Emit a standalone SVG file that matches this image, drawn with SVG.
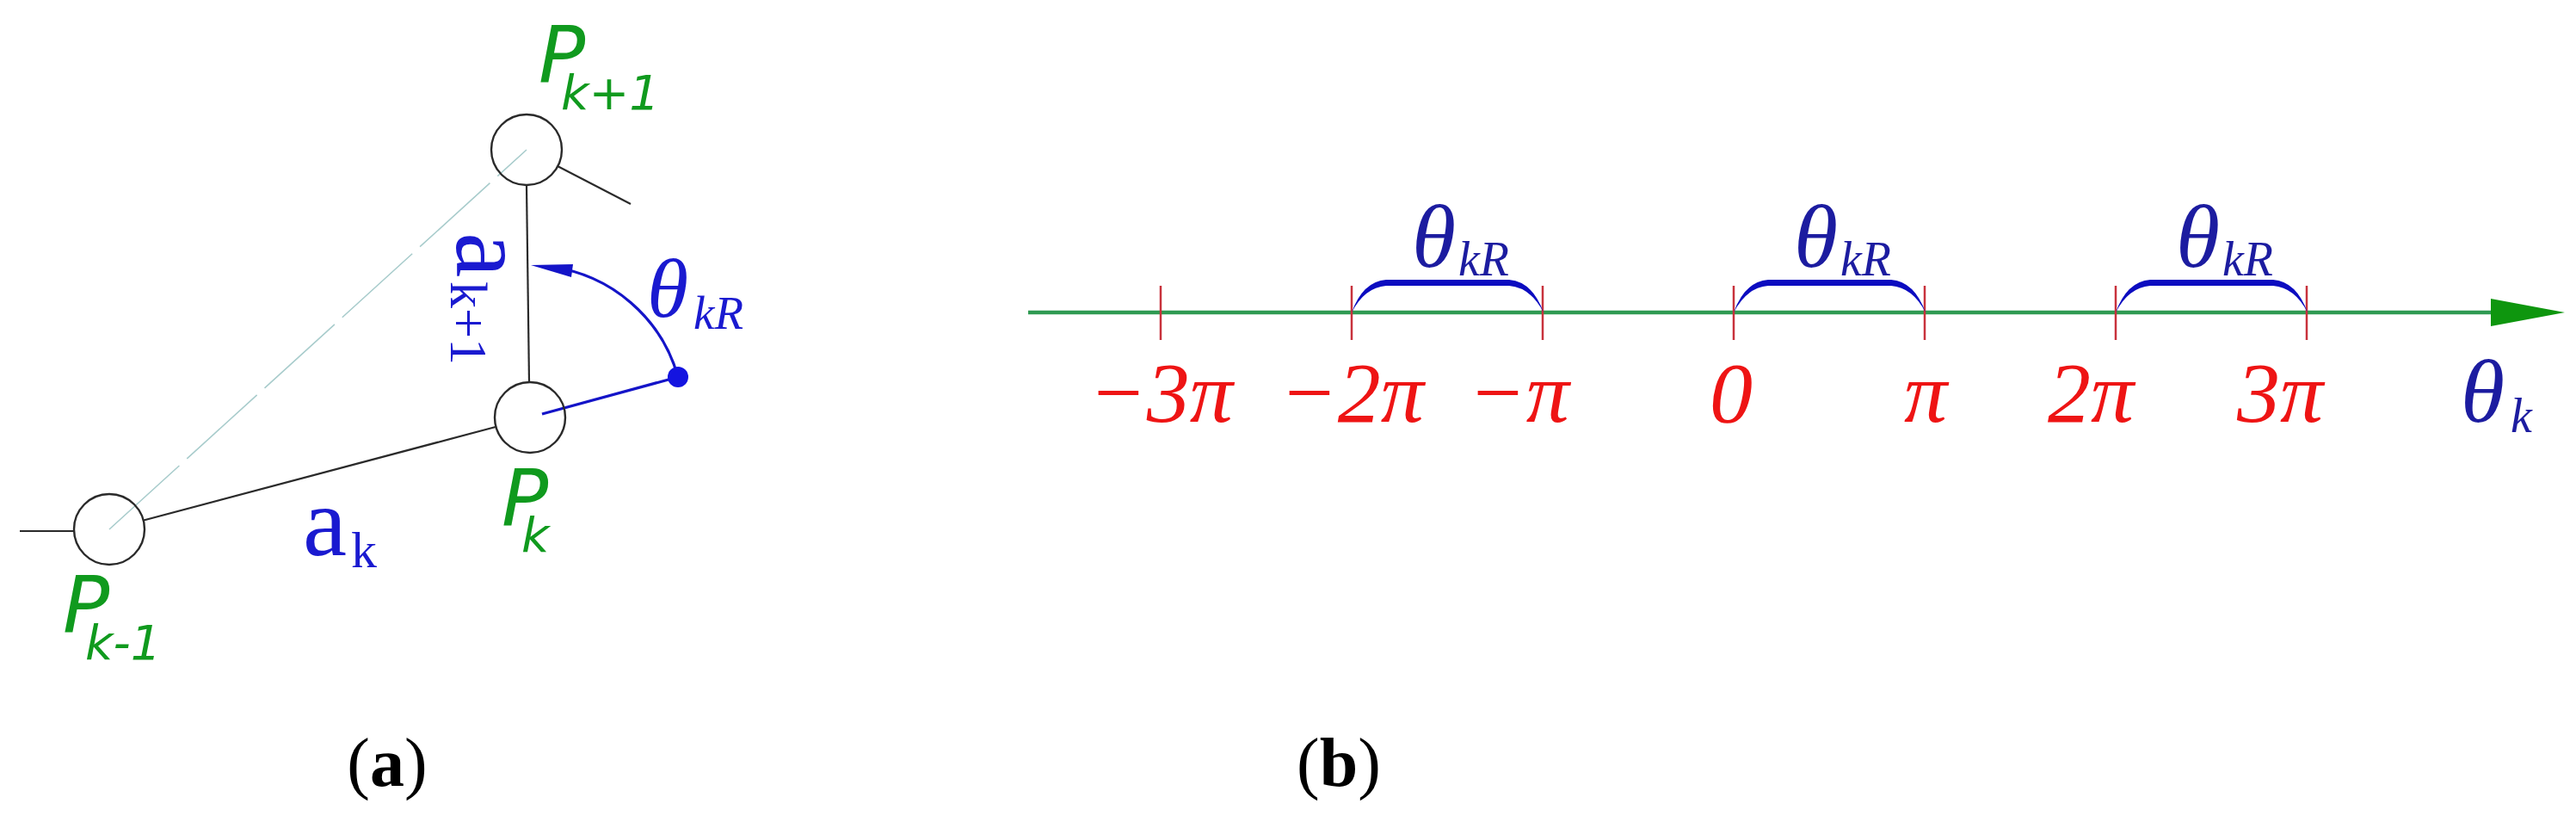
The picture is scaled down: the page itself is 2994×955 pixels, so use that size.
<svg xmlns="http://www.w3.org/2000/svg" width="2994" height="955" viewBox="0 0 2994 955">
<style>
.bg{fill:#ffffff}
.joint{fill:none;stroke:#2a2a2a;stroke-width:2.4}
.link{stroke:#2a2a2a;stroke-width:2.2;fill:none}
.dash{stroke:#a8cccc;stroke-width:1.6;fill:none;stroke-dasharray:110 12}
.blue{stroke:#1414c8;stroke-width:3.2;fill:none}
.pl{font-family:"DejaVu Sans",Verdana,sans-serif;font-style:italic;fill:#109a1e}
.ser{font-family:"Liberation Serif","Times New Roman",serif}
.it{font-style:italic}
.bl{fill:#1a1ad0}
.nv{fill:#1c1ca0}
.rd{fill:#ee1414}
.axis{stroke:#2f9a52;stroke-width:4.5;fill:none}
.tick{stroke:#c8323c;stroke-width:2.5}
.brace{fill:#0c0cc0}
.cap{font-family:"Liberation Serif","Times New Roman",serif;font-size:80px;fill:#000}
</style>
<rect class="bg" x="0" y="0" width="2994" height="955"/>

<!-- Panel (a) -->
<g id="connectors-a">
  <line class="dash" x1="127" y1="615" x2="612" y2="174"/>
  <line class="link" x1="612" y1="216" x2="615" y2="444"/>
  <line class="link" x1="648" y1="193" x2="733" y2="237"/>
  <line class="link" x1="576" y1="496" x2="167" y2="604.5"/>
  <line class="link" x1="23" y1="617" x2="86" y2="617"/>
  <line class="blue" x1="630" y1="481" x2="788" y2="438"/>
  <path class="blue" d="M788,438 A177,177 0 0 0 640,310"/>
  <polygon points="617,308 666,307 664,322" fill="#1414c8"/>
</g>
<g id="node-pk1">
  <circle class="joint" cx="612" cy="174" r="41"/>
  <text class="pl" x="626" y="96" font-size="90">P</text>
  <text class="pl" x="652" y="127" font-size="56">k+1</text>
</g>
<g id="node-pk">
  <circle class="joint" cx="616" cy="485" r="41"/>
  <text class="pl" x="583" y="611" font-size="90">P</text>
  <text class="pl" x="606" y="641" font-size="56">k</text>
</g>
<g id="node-pkm1">
  <circle class="joint" cx="127" cy="615" r="41"/>
  <text class="pl" x="73" y="735" font-size="90">P</text>
  <text class="pl" x="99" y="766" font-size="56">k-1</text>
</g>
<g id="node-dot">
  <circle cx="788" cy="438" r="12" fill="#1414e0"/>
</g>
<g id="labels-a">
  <text class="ser bl" x="352" y="645" font-size="115">a<tspan x="408" y="659" font-size="60">k</tspan></text>
  <text class="ser bl" transform="translate(531,270) rotate(90)" font-size="118">a<tspan x="57" y="7" font-size="62">k+1</tspan></text>
  <text class="ser it bl" x="752" y="368" font-size="98">θ<tspan x="806" y="382" font-size="55">kR</tspan></text>
</g>

<!-- Panel (b) -->
<g id="connectors-b">
  <line class="axis" x1="1195" y1="363" x2="2900" y2="363"/>
  <polygon points="2895,347 2981,363 2895,379" fill="#0e960e"/>
</g>
<g id="ticks">
  <line class="tick" x1="1349" y1="332" x2="1349" y2="395"/>
  <line class="tick" x1="1571" y1="332" x2="1571" y2="395"/>
  <line class="tick" x1="1793" y1="332" x2="1793" y2="395"/>
  <line class="tick" x1="2015" y1="332" x2="2015" y2="395"/>
  <line class="tick" x1="2237" y1="332" x2="2237" y2="395"/>
  <line class="tick" x1="2459" y1="332" x2="2459" y2="395"/>
  <line class="tick" x1="2681" y1="332" x2="2681" y2="395"/>
</g>
<g id="brace-1">
  <path class="brace" d="M1571,363 Q1584,327 1611,325 L1754,325 Q1781,327 1794,363 Q1779,334 1754,332 L1611,332 Q1586,334 1571,363 Z"/>
  <text class="ser it nv" x="1641" y="310" font-size="104">θ<tspan x="1695" y="320" font-size="56">kR</tspan></text>
</g>
<g id="brace-2">
  <path class="brace" d="M2015,363 Q2028,327 2055,325 L2198,325 Q2225,327 2238,363 Q2223,334 2198,332 L2055,332 Q2030,334 2015,363 Z"/>
  <text class="ser it nv" x="2085" y="310" font-size="104">θ<tspan x="2139" y="320" font-size="56">kR</tspan></text>
</g>
<g id="brace-3">
  <path class="brace" d="M2459,363 Q2472,327 2499,325 L2642,325 Q2669,327 2682,363 Q2667,334 2642,332 L2499,332 Q2474,334 2459,363 Z"/>
  <text class="ser it nv" x="2529" y="310" font-size="104">θ<tspan x="2583" y="320" font-size="56">kR</tspan></text>
</g>
<g id="tick-labels">
  <text class="ser it rd" x="1349" y="490" font-size="100" text-anchor="middle">−3π</text>
  <text class="ser it rd" x="1571" y="490" font-size="100" text-anchor="middle">−2π</text>
  <text class="ser it rd" x="1765" y="490" font-size="100" text-anchor="middle">−π</text>
  <text class="ser it rd" x="2012" y="490" font-size="100" text-anchor="middle">0</text>
  <text class="ser it rd" x="2238" y="490" font-size="100" text-anchor="middle">π</text>
  <text class="ser it rd" x="2430" y="490" font-size="100" text-anchor="middle">2π</text>
  <text class="ser it rd" x="2650" y="490" font-size="100" text-anchor="middle">3π</text>
  <text class="ser it nv" x="2860" y="490" font-size="104">θ<tspan x="2918" y="502" font-size="56">k</tspan></text>
</g>

<g id="captions">
  <text class="cap" x="450" y="913" text-anchor="middle">(<tspan font-weight="bold">a</tspan>)</text>
  <text class="cap" x="1556" y="913" text-anchor="middle">(<tspan font-weight="bold">b</tspan>)</text>
</g>
</svg>
